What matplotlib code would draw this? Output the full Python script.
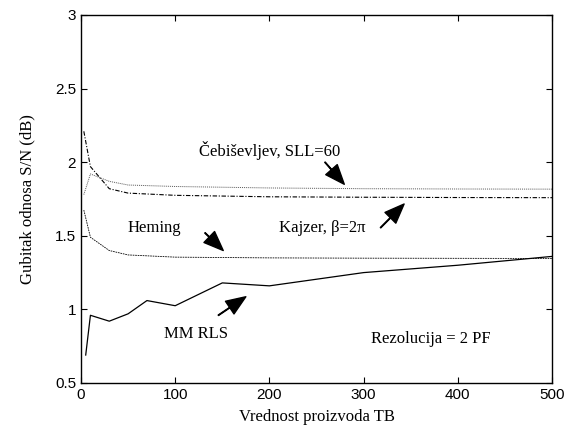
import numpy as np
import matplotlib.pyplot as plt

# vrednosti ocitane sa slike
tb_rls = [5, 10, 30, 50, 70, 100, 150, 200, 300, 400, 500]
mm_rls = [0.69, 0.96, 0.92, 0.97, 1.06, 1.025, 1.18, 1.16, 1.25, 1.30, 1.36]

tb_win = [3, 10, 30, 50, 100, 200, 300, 400, 500]
heming = [1.675, 1.49, 1.40, 1.37, 1.355, 1.35, 1.348, 1.347, 1.346]
cebisev = [1.78, 1.92, 1.87, 1.845, 1.835, 1.825, 1.82, 1.818, 1.817]
kajzer = [2.21, 1.97, 1.82, 1.79, 1.775, 1.765, 1.762, 1.76, 1.759]

serif = 'Liberation Serif'
sans = 'Liberation Sans'

fig = plt.figure(figsize=(5.72, 4.33), dpi=100)
ax = fig.add_axes([81/572, 1-383/433, (552-81)/572, (383-15)/433])

ax.plot(tb_win, cebisev, color='0.35', linestyle=(0, (1, 1)), linewidth=0.7)
ax.plot(tb_win, kajzer, color='k', linestyle=(0, (4, 1.5, 1, 1.5)), linewidth=0.8)
ax.plot(tb_win, heming, color='k', linestyle=(0, (2, 1)), linewidth=0.6)
ax.plot(tb_rls, mm_rls, color='k', linestyle='-', linewidth=0.9)

ax.set_xlim(0, 500)
ax.set_ylim(0.5, 3)
ax.set_xticks([0, 100, 200, 300, 400, 500])
ax.set_yticks([0.5, 1, 1.5, 2, 2.5, 3])
ax.set_yticklabels(['0.5', '1', '1.5', '2', '2.5', '3'])
ax.tick_params(direction='in', top=True, right=True, labelsize=11, length=4)
for lab in ax.get_xticklabels() + ax.get_yticklabels():
    lab.set_fontfamily(sans)
for s in ax.spines.values():
    s.set_linewidth(1.0)

ax.set_xlabel('Vrednost proizvoda TB', fontfamily=serif, fontsize=12, labelpad=5)
ax.set_ylabel('Gubitak odnosa S/N (dB)', fontfamily=serif, fontsize=12, labelpad=14)

arr = dict(facecolor='k', edgecolor='k', width=0.4, headwidth=11, headlength=14, shrink=0)
tk = dict(fontfamily=serif, fontsize=12, ha='center', va='center')

ax.text(200, 2.08, 'Čebiševljev, SLL=60', **tk)
ax.annotate('', xy=(279.5, 1.85), xytext=(259, 2.0), arrowprops=arr)

ax.text(77.5, 1.55, 'Heming', **tk)
ax.annotate('', xy=(151, 1.40), xytext=(131.6, 1.52), arrowprops=arr)

ax.text(256, 1.55, 'Kajzer, β=2π', **tk)
ax.annotate('', xy=(343, 1.716), xytext=(318, 1.555), arrowprops=arr)

ax.text(122, 0.833, 'MM RLS', **tk)
ax.annotate('', xy=(175, 1.086), xytext=(145.8, 0.96), arrowprops=arr)

ax.text(371, 0.797, 'Rezolucija = 2 PF', **tk)

fig.savefig('out.png', dpi=100)
